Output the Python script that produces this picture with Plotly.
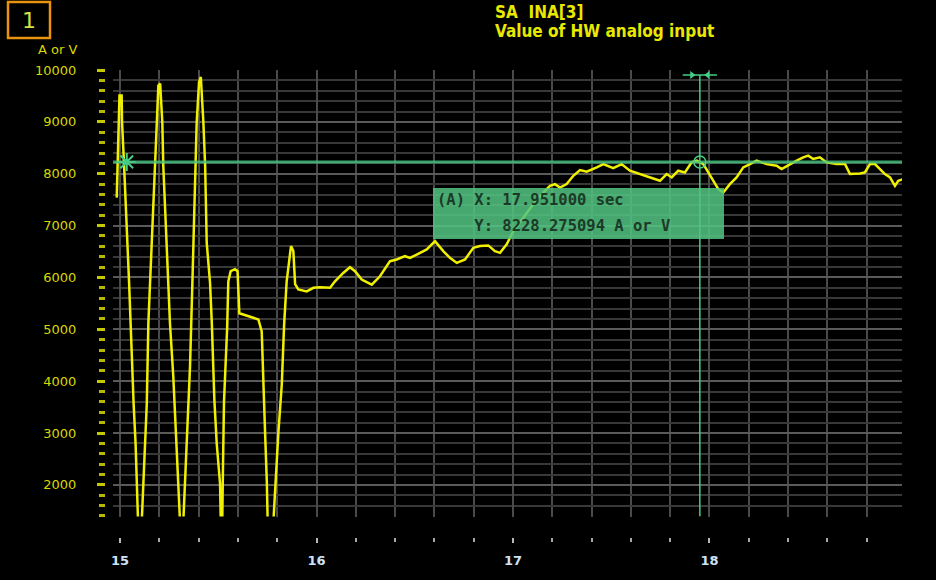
import plotly.graph_objects as go

# ---------------- data ----------------
time_s = [14.983, 14.987, 14.992, 14.997, 15.008, 15.010, 15.020, 15.031, 15.038, 15.046,
          15.053, 15.061, 15.069, 15.079, 15.087, 15.094, 15.107, 15.110, 15.119, 15.136,
          15.144, 15.161, 15.175, 15.187, 15.195, 15.204, 15.215, 15.220, 15.238, 15.254,
          15.271, 15.280, 15.297, 15.305, 15.313, 15.322, 15.339, 15.356, 15.368, 15.378,
          15.390, 15.402, 15.411, 15.424, 15.433, 15.441, 15.458, 15.467, 15.480, 15.492,
          15.509, 15.514, 15.519, 15.524, 15.529, 15.537, 15.545, 15.551, 15.563, 15.585,
          15.598, 15.607, 15.662, 15.704, 15.721, 15.729, 15.738, 15.747, 15.753, 15.776,
          15.789, 15.806, 15.823, 15.835, 15.848, 15.860, 15.870, 15.882, 15.891, 15.907,
          15.950, 15.984, 16.018, 16.069, 16.094, 16.136, 16.170, 16.196, 16.230, 16.281,
          16.323, 16.374, 16.408, 16.450, 16.476, 16.510, 16.561, 16.603, 16.645, 16.679,
          16.714, 16.756, 16.798, 16.832, 16.874, 16.908, 16.934, 16.968, 17.002, 17.052,
          17.103, 17.154, 17.188, 17.214, 17.239, 17.273, 17.307, 17.341, 17.375, 17.426,
          17.460, 17.510, 17.553, 17.595, 17.646, 17.697, 17.748, 17.782, 17.808, 17.841,
          17.875, 17.909, 17.935, 17.969, 17.994, 18.019, 18.045, 18.070, 18.104, 18.138,
          18.172, 18.206, 18.240, 18.291, 18.342, 18.367, 18.410, 18.444, 18.477, 18.503,
          18.528, 18.562, 18.596, 18.647, 18.690, 18.715, 18.766, 18.791, 18.817, 18.842,
          18.868, 18.893, 18.919, 18.944, 18.961, 18.986]
value_a_or_v = [7540, 8200, 9000, 9510, 9510, 9000, 8200, 7380, 6600, 5890,
                5110, 4280, 3560, 2790, 2010, 1000, 1000, 1300, 2018, 3568,
                5118, 6670, 8219, 8994, 9700, 9738, 8994, 8155, 6605, 5118,
                4085, 3310, 2018, 1300, 1000, 1300, 2793, 4279, 5893, 7380,
                8994, 9770, 9866, 8994, 8155, 6670, 5893, 5118, 3632, 2793,
                2018, 1000, 1000, 2400, 3600, 4320, 5020, 5926, 6120, 6160,
                6120, 5310, 5250, 5190, 4960, 3800, 3020, 2050, 1000, 1000,
                1990, 3020, 3930, 5090, 5926, 6256, 6605, 6510, 5870, 5770,
                5730, 5800, 5810, 5800, 5926, 6087, 6198, 6120, 5960, 5862,
                6023, 6314, 6347, 6410, 6378, 6442, 6540, 6700, 6508, 6378,
                6281, 6347, 6572, 6605, 6618, 6508, 6475, 6638, 6895, 7153,
                7412, 7638, 7767, 7800, 7735, 7800, 7961, 8070, 8040, 8122,
                8186, 8109, 8186, 8058, 7994, 7928, 7864, 7994, 7928, 8058,
                8025, 8219, 8252, 8186, 8025, 7864, 7703, 7638, 7800, 7928,
                8122, 8186, 8252, 8186, 8155, 8090, 8186, 8252, 8316, 8349,
                8285, 8316, 8219, 8186, 8186, 7994, 8006, 8025, 8186, 8186,
                8090, 7994, 7928, 7767, 7864, 7897]

x_tick_values = [15, 16, 17, 18]
x_tick_labels = ["15", "16", "17", "18"]
y_tick_values = [2000, 3000, 4000, 5000, 6000, 7000, 8000, 9000, 10000]
y_tick_labels = ["2000", "3000", "4000", "5000", "6000", "7000", "8000", "9000", "10000"]

CURSOR_X = 17.951
CURSOR_Y = 8228.275094
H_CURSOR_MARK_X = 15.034

TITLE_1 = "SA  INA[3]"
TITLE_2 = "Value of HW analog input"
UNIT = "A or V"

# ---------------- layout helpers (pixel -> paper) ----------------
W, H = 936, 580
PL, PR, PT, PB = 105, 902, 70, 537


def pxx(x):
    return (x - PL) / (PR - PL)


def pxy(y):
    return (PB - y) / (PB - PT)


X_RANGE = [14.964, 18.98]
Y_RANGE = [1390, 10001]

YELLOW = "#F0F000"
GREEN = "rgba(70,200,130,0.80)"
GREEN_SOLID = "#45CF85"

fig = go.Figure()

fig.add_trace(go.Scatter(
    x=time_s, y=value_a_or_v, mode="lines",
    line=dict(color=YELLOW, width=2.5),
    hoverinfo="skip", showlegend=False,
))

# cursor markers
fig.add_trace(go.Scatter(
    x=[CURSOR_X], y=[CURSOR_Y], mode="markers",
    marker=dict(symbol="circle-open", size=12, color=GREEN_SOLID, line=dict(width=1.5)),
    showlegend=False, hoverinfo="skip",
))
fig.add_trace(go.Scatter(
    x=[H_CURSOR_MARK_X], y=[CURSOR_Y], mode="markers",
    marker=dict(symbol="asterisk-open", size=15, color=GREEN_SOLID, line=dict(width=2, color=GREEN_SOLID)),
    showlegend=False, hoverinfo="skip",
))
top_y = 9904
fig.add_trace(go.Scatter(
    x=[CURSOR_X - 0.040, CURSOR_X + 0.040], y=[top_y, top_y], mode="markers",
    marker=dict(symbol=["triangle-right", "triangle-left"], size=7, color=GREEN_SOLID),
    showlegend=False, hoverinfo="skip",
))

shapes = []
# horizontal cursor line
shapes.append(dict(type="line", xref="x domain", yref="y", x0=0, x1=1, y0=CURSOR_Y, y1=CURSOR_Y,
                   line=dict(color=GREEN, width=3), layer="above"))
# vertical cursor line
shapes.append(dict(type="line", xref="x", yref="y", x0=CURSOR_X, x1=CURSOR_X, y0=Y_RANGE[0], y1=top_y,
                   line=dict(color=GREEN_SOLID, width=1.5), layer="above"))
# top cursor handle
shapes.append(dict(type="line", xref="x", yref="y", x0=CURSOR_X - 0.087, x1=CURSOR_X + 0.087, y0=top_y, y1=top_y,
                   line=dict(color=GREEN_SOLID, width=1.5), layer="above"))
# readout box
shapes.append(dict(type="rect", xref="x", yref="y", x0=16.593, x1=18.074, y0=6741, y1=7725,
                   fillcolor="rgba(82,196,128,0.86)", line=dict(width=0), layer="above"))
# panel number box
shapes.append(dict(type="rect", xref="paper", yref="paper", x0=pxx(8), x1=pxx(50), y0=pxy(38), y1=pxy(2),
                   line=dict(color="#E8920F", width=2.5), fillcolor="rgba(0,0,0,0)"))

annotations = [
    dict(text="1", xref="paper", yref="paper", x=pxx(29), y=pxy(20), xanchor="center", yanchor="middle",
         showarrow=False, font=dict(family="DejaVu Sans", size=22, color="#D4E040")),
    dict(text=TITLE_1, xref="paper", yref="paper", x=pxx(493), y=pxy(12), xanchor="left", yanchor="middle",
         showarrow=False, font=dict(family="DejaVu Sans Condensed, Liberation Sans Narrow, Roboto", size=17,
                                    color="#E8E800", weight="bold")),
    dict(text=TITLE_2, xref="paper", yref="paper", x=pxx(493), y=pxy(31), xanchor="left", yanchor="middle",
         showarrow=False, font=dict(family="DejaVu Sans Condensed, Liberation Sans Narrow, Roboto", size=17,
                                    color="#E8E800", weight="bold")),
    dict(text=UNIT, xref="paper", yref="paper", x=pxx(57), y=pxy(49), xanchor="center", yanchor="middle",
         showarrow=False, font=dict(family="DejaVu Sans", size=13, color="#D8D800")),
    dict(text=f"(A) X: {CURSOR_X:.6f} sec", xref="x", yref="y", x=16.603, y=7493, xanchor="left",
         yanchor="middle", showarrow=False,
         font=dict(family="DejaVu Sans Mono", size=15.5, color="#1C3A28", weight="bold")),
    dict(text="\u00a0\u00a0\u00a0\u00a0" + f"Y: {CURSOR_Y:.6f} {UNIT}", xref="x", yref="y", x=16.603, y=6992,
         xanchor="left", yanchor="middle", showarrow=False,
         font=dict(family="DejaVu Sans Mono", size=15.5, color="#1C3A28", weight="bold")),
]

fig.update_layout(
    width=W, height=H,
    margin=dict(l=PL, r=W - PR, t=PT, b=H - PB, autoexpand=False),
    paper_bgcolor="black", plot_bgcolor="black",
    showlegend=False,
    shapes=shapes, annotations=annotations,
    xaxis=dict(
        domain=[pxx(113), 1], range=X_RANGE, anchor="free", position=0,
        tickmode="array", tickvals=x_tick_values, ticktext=x_tick_labels,
        showgrid=True, gridcolor="#4a4a4a", gridwidth=1.5,
        ticks="outside", ticklen=5, tickwidth=2, tickcolor="#b8b8b8",
        minor=dict(dtick=0.2, tick0=15, showgrid=True, gridcolor="#4a4a4a", gridwidth=1.5,
                   ticks="outside", ticklen=4, tickwidth=2, tickcolor="#a8a8a8"),
        tickfont=dict(family="DejaVu Sans", size=13, color="#CFE2F5", weight="bold"),
        ticklabelstandoff=6,
        showline=False, zeroline=False, fixedrange=True,
    ),
    yaxis=dict(
        domain=[pxy(516.5), 1], range=Y_RANGE, anchor="free", position=0,
        tickmode="array", tickvals=y_tick_values, ticktext=y_tick_labels,
        showgrid=True, gridcolor="#5a5a5a", gridwidth=1.5,
        ticks="outside", ticklen=8, tickwidth=2.5, tickcolor="#C8C800",
        minor=dict(dtick=200, tick0=0, showgrid=True, gridcolor="#383838", gridwidth=1.5,
                   ticks="outside", ticklen=6, tickwidth=2.5, tickcolor="#B8B800"),
        tickfont=dict(family="DejaVu Sans", size=13, color="#D8D800"),
        ticklabelstandoff=18,
        showline=False, zeroline=False, fixedrange=True,
    ),
)

fig.write_html("out.html")
